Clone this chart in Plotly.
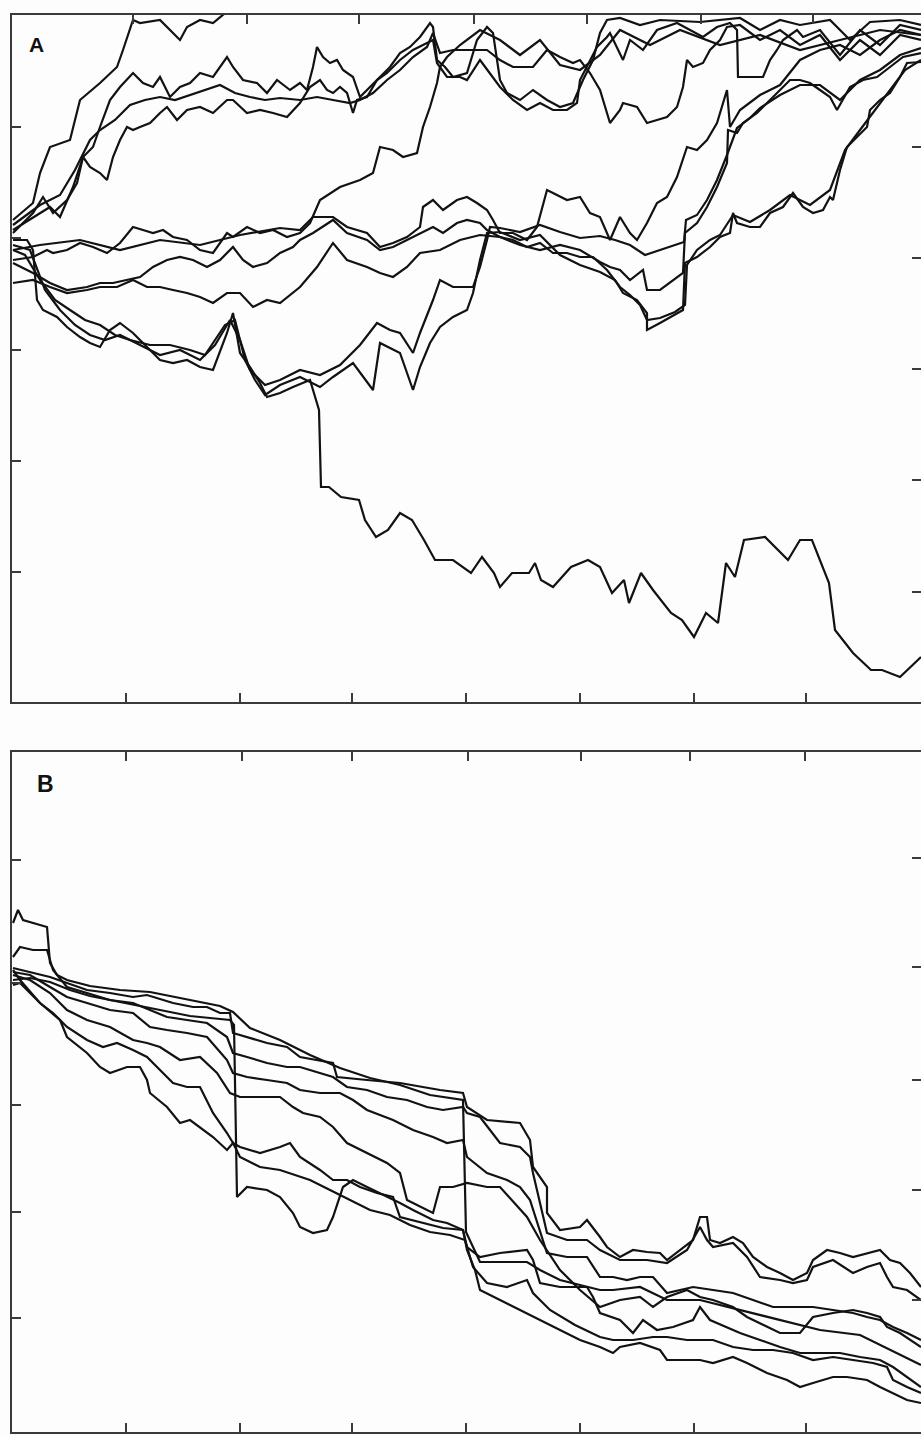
import plotly.graph_objects as go

# ---------------- Panel A: (step, value) readings ----------------
A_L1 = [(1,482),(21,499),(28,529),(38,555),(58,562),(68,602),(88,619),(98,629),(105,635),(111,652),(118,672),(121,682),(128,679),(148,682),(161,669),(168,662),(175,675),(188,682),(201,679),(208,685),(223,697),(248,712),(288,732),(388,732),(488,742),(588,732),(688,742),(788,732),(909,732)]
A_U1 = [(1,469),(21,489),(31,505),(41,489),(55,502),(65,519),(71,545),(81,555),(88,575),(98,602),(108,615),(121,629),(131,619),(141,615),(148,625),(158,605),(168,615),(178,619),(188,629),(201,625),(215,645),(221,635),(231,622),(245,619),(255,609),(265,622),(278,612),(288,619),(295,612),(301,635),(305,655),(311,645),(318,639),(325,642),(331,632),(341,625),(348,605),(355,612),(361,619),(368,625),(378,635),(388,649),(398,655),(408,665),(418,679),(421,675),(425,642),(433,635),(441,625),(455,629),(465,662),(475,675),(481,669),(488,622),(495,609),(508,602),(521,612),(535,602),(548,595),(561,599),(571,622),(581,642),(588,669),(595,682),(608,684),(628,677),(648,682),(688,680),(728,684),(748,672),(768,682),(788,677),(818,682),(838,662),(858,680),(888,682),(909,677)]
A_U2 = [(1,472),(38,495),(48,485),(61,515),(71,545),(78,535),(88,529),(95,522),(101,545),(108,562),(115,575),(121,572),(128,575),(138,579),(148,589),(155,595),(165,582),(175,592),(188,595),(201,589),(215,602),(221,602),(235,589),(248,592),(261,589),(275,585),(288,599),(298,615),(308,622),(315,612),(321,609),(328,615),(335,609),(341,589),(345,602),(355,605),(365,622),(375,629),(388,642),(401,652),(415,659),(421,662),(425,639),(435,625),(448,625),(455,622),(468,642),(488,615),(501,602),(515,592),(528,599),(541,592),(555,592),(565,599),(568,622),(575,635),(585,655),(595,665),(598,669),(611,642),(618,662),(631,652),(645,672),(665,679),(678,672),(691,665),(705,675),(718,679),(725,672),(726,625),(738,625),(751,625),(758,642),(765,652),(771,662),(785,672),(791,665),(808,672),(828,647),(848,672),(868,657),(888,677),(909,672)]
A_U3 = [(1,477),(28,497),(48,507),(63,532),(78,562),(88,572),(103,582),(118,597),(133,602),(148,605),(163,602),(178,607),(193,612),(208,617),(223,609),(238,605),(253,602),(268,604),(288,602),(305,605),(321,602),(338,599),(348,602),(361,609),(375,622),(388,632),(401,645),(415,655),(421,669),(428,649),(441,652),(461,652),(475,652),(488,642),(501,635),(521,635),(535,652),(548,645),(561,639),(568,642),(578,629),(588,612),(598,579),(608,592),(611,599),(625,595),(635,579),(645,582),(655,585),(665,595),(671,615),(675,642),(681,635),(691,639),(698,652),(708,662),(715,675),(728,677),(748,662),(768,672),(788,657),(808,667),(828,642),(848,662),(868,647),(888,667),(909,662)]
A_M0 = [(1,442),(21,445),(35,452),(41,449),(55,452),(68,459),(81,455),(95,449),(108,459),(121,475),(131,472),(141,469),(151,472),(161,465),(175,462),(188,452),(201,449),(215,469),(221,465),(235,475),(248,469),(261,472),(275,465),(288,469),(298,479),(308,502),(328,515),(348,522),(361,529),(368,555),(381,552),(391,545),(405,549),(411,575),(418,595),(425,619),(428,635),(435,645),(448,657),(468,672),(488,662),(508,647),(528,662),(548,637),(568,632),(588,647),(608,672),(638,657),(668,672),(708,657),(748,667),(788,652),(828,662),(868,672),(909,667)]
A_M1 = [(1,452),(28,457),(68,462),(108,452),(148,462),(188,457),(228,467),(268,474),(288,472),(301,485),(321,485),(335,475),(355,469),(368,455),(381,459),(395,465),(408,475),(411,495),(421,502),(431,492),(445,502),(455,505),(465,499),(475,492),(481,482),(488,469),(501,469),(515,462),(525,475),(535,512),(541,509),(555,502),(568,505),(578,489),(588,485),(598,462),(608,485),(618,469),(625,462),(635,479),(645,499),(655,505),(665,525),(675,555),(685,552),(695,562),(705,579),(715,612),(718,575),(728,592),(748,607),(768,617),(788,642),(808,652),(828,657),(848,647),(868,662),(888,672),(909,667)]
A_M2 = [(1,439),(21,429),(38,419),(55,412),(75,415),(88,419),(101,419),(115,422),(128,425),(141,435),(155,442),(168,445),(181,442),(195,435),(208,442),(221,455),(231,442),(241,435),(255,439),(268,449),(281,455),(288,462),(301,469),(321,482),(335,469),(355,462),(368,452),(381,455),(395,462),(408,469),(421,475),(431,469),(445,479),(455,482),(468,479),(475,472),(481,469),(488,465),(501,462),(515,455),(528,459),(541,449),(555,449),(568,445),(581,445),(595,432),(608,415),(618,407),(628,397),(635,382),(648,384),(663,390),(673,397),(675,437),(685,452),(698,462),(708,467),(721,487),(738,480),(758,492),(778,507),(798,497),(818,512),(833,552),(848,572),(863,592),(878,612),(893,632),(909,642)]
A_M3 = [(1,419),(21,422),(38,415),(55,409),(75,412),(88,415),(105,415),(121,422),(135,415),(148,415),(161,412),(175,409),(188,405),(201,399),(215,409),(228,409),(241,395),(255,402),(268,399),(281,409),(288,415),(305,435),(321,459),(335,442),(355,435),(368,429),(381,425),(395,435),(408,449),(428,452),(448,462),(468,467),(488,465),(508,457),(528,452),(548,457),(568,452),(588,440),(598,435),(608,432),(618,422),(631,432),(635,412),(648,412),(661,422),(671,429),(673,469),(685,479),(695,495),(705,515),(715,539),(716,572),(725,569),(731,579),(745,589),(758,602),(768,612),(778,622),(788,622),(798,619),(808,612),(818,605),(825,592),(831,602),(838,615),(851,622),(865,625),(878,635),(891,645),(909,649)]
A_D1 = [(1,462),(15,462),(21,452),(25,402),(31,392),(45,385),(55,375),(68,365),(78,359),(88,355),(98,372),(108,379),(121,369),(135,355),(148,342),(161,339),(175,342),(188,335),(201,332),(215,369),(221,389),(228,349),(238,335),(248,319),(255,305),(268,309),(281,315),(298,322),(304,302),(307,292),(309,215),(317,215),(329,205),(347,202),(353,182),(364,165),(376,172),(388,189),(400,182),(412,162),(423,142),(441,142),(459,129),(470,145),(482,129),(488,115),(500,129),(517,129),(523,139),(529,122),(541,115),(559,135),(576,142),(588,135),(600,109),(612,122),(617,99),(629,129),(641,112),(659,89),(670,82),(682,65),(694,89),(706,79),(714,139),(723,125),(732,162),(753,165),(776,142),(788,162),(800,162),(817,119),(823,72),(841,49),(859,32),(870,32),(888,25),(909,45)]
A_D2 = [(1,452),(13,447),(28,422),(43,402),(58,392),(73,382),(88,377),(103,367),(118,362),(138,357),(158,357),(178,352),(193,347),(203,362),(213,377),(223,382),(233,342),(243,322),(253,307),(268,317),(288,325),(308,315),(321,325),(341,339),(361,312),(368,359),(388,349),(401,312),(408,335),(418,359),(428,375),(441,385),(455,392),(461,409),(468,442),(475,469),(488,470),(508,462),(528,467),(548,447),(568,437),(588,430),(603,422),(611,409),(625,402),(635,389),(635,372),(648,379),(658,385),(671,392),(673,439),(685,445),(698,455),(708,465),(718,469),(721,489),(725,479),(738,475),(748,475),(758,489),(771,495),(781,509),(791,495),(801,489),(811,492),(818,505),(821,502),(828,532),(835,555),(845,565),(855,575),(858,592),(868,602),(878,609),(888,625),(895,639),(909,640)]
A_D3 = [(1,457),(18,452),(33,412),(48,392),(63,377),(78,367),(93,362),(108,367),(128,357),(148,347),(168,352),(188,342),(203,357),(218,382),(228,362),(238,332),(253,317),(268,322),(288,332),(308,327),(328,337),(348,357),(365,379),(378,372),(388,369),(401,349),(408,369),(421,402),(428,422),(441,415),(461,415),(468,435),(475,462),(478,475),(488,474),(508,470),(528,477),(548,470),(568,464),(588,466),(603,462),(618,457),(633,447),(648,452),(663,457),(672,460),(674,482),(685,487),(695,502),(705,522),(715,547),(725,574),(738,584),(748,594),(768,607),(788,617),(808,617),(828,602),(848,622),(868,632),(888,647),(909,654)]

# ---------------- Panel B: (step, value) readings ----------------
B_1 = [(1,509),(6,522),(11,512),(21,509),(35,505),(38,469),(45,457),(55,452),(78,446),(108,442),(138,440),(168,434),(208,426),(221,420),(238,404),(268,392),(298,377),(328,364),(358,354),(388,347),(418,337),(451,332),(454,200),(468,170),(488,170),(515,170),(528,162),(548,152),(588,142),(601,142),(628,145),(655,132),(688,132),(728,122),(768,112),(808,102),(848,97),(878,82),(909,67)]
B_a = [(1,464),(18,460),(38,455),(55,449),(75,442),(98,439),(121,435),(135,437),(141,435),(161,429),(181,425),(195,425),(208,419),(218,419),(221,399),(235,395),(255,389),(275,385),(288,375),(321,369),(325,355),(355,352),(388,349),(428,342),(451,339),(455,325),(475,312),(508,309),(518,292),(521,265),(535,245),(535,219),(548,202),(568,205),(575,212),(588,195),(595,185),(608,175),(621,182),(635,180),(648,179),(655,172),(668,182),(681,192),(688,215),(695,215),(698,192),(708,189),(721,195),(731,189),(741,175),(755,165),(768,159),(781,152),(795,159),(801,172),(815,182),(828,179),(841,175),(855,179),(868,182),(878,172),(888,169),(898,159),(909,145)]
B_b = [(1,475),(8,485),(21,482),(35,482),(41,462),(55,445),(75,439),(98,432),(121,429),(138,422),(155,415),(175,412),(195,409),(215,395),(221,379),(235,375),(255,369),(275,365),(288,365),(321,355),(335,345),(355,342),(375,335),(395,332),(415,325),(431,322),(451,325),(455,319),(468,315),(488,289),(508,285),(518,275),(521,259),(535,199),(555,192),(575,192),(588,182),(608,172),(635,172),(655,169),(675,182),(688,205),(695,192),(701,185),(721,189),(735,175),(748,155),(768,152),(781,149),(795,152),(801,165),(821,172),(841,159),(855,165),(868,169),(875,155),(881,145),(895,142),(909,132)]
B_c = [(1,460),(18,457),(38,445),(55,435),(75,429),(98,422),(121,419),(138,405),(155,402),(175,399),(195,395),(215,372),(221,359),(235,355),(255,352),(275,349),(288,342),(308,339),(328,339),(341,332),(355,322),(381,312),(401,302),(421,295),(435,289),(451,292),(455,275),(475,259),(495,252),(508,245),(518,232),(535,179),(555,175),(575,175),(588,155),(601,155),(615,152),(628,155),(641,155),(655,139),(681,145),(701,142),(721,139),(741,132),(761,125),(781,125),(801,125),(821,122),(841,119),(855,115),(868,112),(881,105),(895,99),(909,92)]
B_d = [(1,457),(18,452),(38,439),(55,422),(75,412),(98,405),(121,392),(135,389),(148,385),(168,372),(188,375),(205,359),(218,339),(228,335),(248,335),(268,335),(281,325),(291,319),(308,315),(321,305),(335,289),(355,279),(375,269),(388,259),(395,232),(401,229),(421,219),(428,245),(441,245),(455,249),(475,245),(488,245),(515,215),(528,192),(548,162),(568,142),(588,125),(608,132),(628,135),(641,125),(655,135),(675,142),(688,135),(701,132),(721,125),(735,115),(748,109),(768,99),(788,99),(801,115),(821,119),(841,122),(855,119),(868,115),(875,105),(888,99),(909,85)]
B_e = [(1,462),(8,452),(28,429),(41,419),(55,405),(75,392),(91,385),(105,389),(121,382),(135,375),(148,362),(161,349),(175,345),(188,345),(201,319),(215,299),(221,289),(228,285),(248,279),(268,285),(278,289),(288,275),(308,262),(321,252),(335,252),(348,245),(365,239),(381,235),(388,215),(408,210),(431,204),(451,202),(455,185),(468,175),(488,179),(515,182),(521,172),(528,149),(548,145),(575,145),(581,135),(588,119),(608,112),(621,99),(631,112),(645,102),(661,105),(681,112),(688,125),(698,112),(715,105),(728,99),(748,92),(768,85),(788,79),(808,79),(828,79),(848,75),(868,72),(881,65),(895,55),(909,45)]
B_f = [(1,447),(8,449),(28,429),(48,412),(55,395),(75,379),(88,365),(98,359),(115,365),(128,365),(135,352),(138,339),(155,325),(168,309),(178,312),(188,305),(201,295),(215,282),(221,289),(228,275),(248,265),(268,262),(288,255),(298,252),(318,242),(338,232),(358,222),(378,217),(398,207),(418,200),(438,197),(453,192),(461,165),(475,149),(495,145),(515,152),(521,139),(538,122),(563,107),(588,95),(601,92),(621,92),(641,95),(655,95),(675,92),(688,92),(701,92),(721,85),(741,82),(761,82),(781,79),(801,72),(821,75),(841,72),(861,69),(875,65),(881,52),(895,45),(909,39)]
B_g = [(1,452),(18,454),(38,450),(58,442),(78,436),(98,432),(118,428),(138,424),(158,420),(178,416),(198,414),(218,412),(222,407),(225,235),(235,245),(255,242),(268,235),(281,219),(288,205),(301,199),(315,202),(321,215),(331,245),(341,252),(355,245),(368,239),(388,229),(401,222),(421,212),(435,209),(451,202),(455,182),(463,162),(468,142),(488,132),(508,122),(528,112),(548,102),(568,92),(588,85),(601,79),(608,85),(628,89),(648,82),(655,72),(668,72),(688,72),(701,69),(721,75),(735,69),(755,59),(775,52),(788,45),(801,49),(821,55),(835,55),(855,52),(868,45),(881,39),(895,32),(909,29)]

A_LINES = [A_L1, A_U1, A_U2, A_U3, A_M0, A_M1, A_M2, A_M3, A_D1, A_D2, A_D3]
B_LINES = [B_1, B_a, B_b, B_c, B_d, B_e, B_f, B_g]

# tick positions (unlabelled)
X_TICKS_BOTTOM = [114, 228, 340, 454, 568, 682, 794]
X_TICKS_TOP_A = [121, 235, 347, 462, 575, 689, 801]
X_TICKS_TOP_B = [114, 230, 340, 456, 569, 678, 793]
A_Y_TICKS_LEFT = [575, 464, 352, 241, 130]
A_Y_TICKS_RIGHT = [555, 444, 333, 222, 110]
B_Y_TICKS_LEFT = [572, 449, 327, 220, 114]
B_Y_TICKS_RIGHT = [574, 465, 352, 242, 132]
X_RANGE = [0, 909]
A_Y_RANGE = [0, 687]
B_Y_RANGE = [0, 680]

LINE_COLOR = "#121212"
FRAME_COLOR = "#3a3a3a"

fig = go.Figure()
for pts in A_LINES:
    fig.add_trace(go.Scatter(x=[p[0] for p in pts], y=[p[1] for p in pts], mode="lines",
                             line=dict(color=LINE_COLOR, width=2.2), xaxis="x", yaxis="y",
                             showlegend=False, hoverinfo="skip"))
for pts in B_LINES:
    fig.add_trace(go.Scatter(x=[p[0] for p in pts], y=[p[1] for p in pts], mode="lines",
                             line=dict(color=LINE_COLOR, width=2.2), xaxis="x2", yaxis="y2",
                             showlegend=False, hoverinfo="skip"))

# invisible helper traces so the overlaying tick-only axes (top / right) get drawn
for xa, ya, yr in [("x3", "y", A_Y_RANGE), ("x", "y3", A_Y_RANGE),
                   ("x4", "y2", B_Y_RANGE), ("x2", "y4", B_Y_RANGE)]:
    fig.add_trace(go.Scatter(x=X_RANGE, y=yr, mode="lines", opacity=0,
                             line=dict(width=0.1, color="rgba(0,0,0,0)"),
                             xaxis=xa, yaxis=ya, showlegend=False, hoverinfo="skip"))

XDOM = [12 / 921, 1.0]
A_DOM = [1 - 702 / 1436, 1 - 15 / 1436]
B_DOM = [1 - 1432 / 1436, 1 - 752 / 1436]

common = dict(showgrid=False, zeroline=False, showticklabels=False, ticks="inside",
              ticklen=9, tickwidth=1.5, tickcolor=FRAME_COLOR)
xframe = dict(showline=True, linecolor=FRAME_COLOR, linewidth=2, mirror=True)
yframe = dict(showline=True, linecolor=FRAME_COLOR, linewidth=2, mirror=False)

fig.update_layout(
    width=921, height=1436,
    margin=dict(l=0, r=0, t=0, b=0),
    paper_bgcolor="#fdfdfd", plot_bgcolor="#fdfdfd",
    showlegend=False,
    # panel A
    xaxis=dict(domain=XDOM, range=X_RANGE, anchor="y", tickvals=X_TICKS_BOTTOM, **common, **xframe),
    yaxis=dict(domain=A_DOM, range=A_Y_RANGE, anchor="x", tickvals=A_Y_TICKS_LEFT, **common, **yframe),
    xaxis3=dict(overlaying="x", side="top", anchor="y", range=X_RANGE, tickvals=X_TICKS_TOP_A,
                showline=False, **common),
    yaxis3=dict(overlaying="y", side="right", anchor="x", range=A_Y_RANGE, tickvals=A_Y_TICKS_RIGHT,
                showline=False, **common),
    # panel B
    xaxis2=dict(domain=XDOM, range=X_RANGE, anchor="y2", tickvals=X_TICKS_BOTTOM, **common, **xframe),
    yaxis2=dict(domain=B_DOM, range=B_Y_RANGE, anchor="x2", tickvals=B_Y_TICKS_LEFT, **common, **yframe),
    xaxis4=dict(overlaying="x2", side="top", anchor="y2", range=X_RANGE, tickvals=X_TICKS_TOP_B,
                showline=False, **common),
    yaxis4=dict(overlaying="y2", side="right", anchor="x2", range=B_Y_RANGE, tickvals=B_Y_TICKS_RIGHT,
                showline=False, **common),
    annotations=[
        dict(text="<b>A</b>", x=27 / 921, y=1 - 31 / 1436, xref="paper", yref="paper",
             showarrow=False, font=dict(family="Liberation Sans, Arial", size=21, color="#111")),
        dict(text="<b>B</b>", x=35 / 921, y=1 - 784 / 1436, xref="paper", yref="paper",
             showarrow=False, font=dict(family="Liberation Sans, Arial", size=23, color="#111")),
    ],
)

fig.write_html("out.html", config={"displayModeBar": False},
               post_script="document.body.style.margin='0';document.body.style.padding='0';")
